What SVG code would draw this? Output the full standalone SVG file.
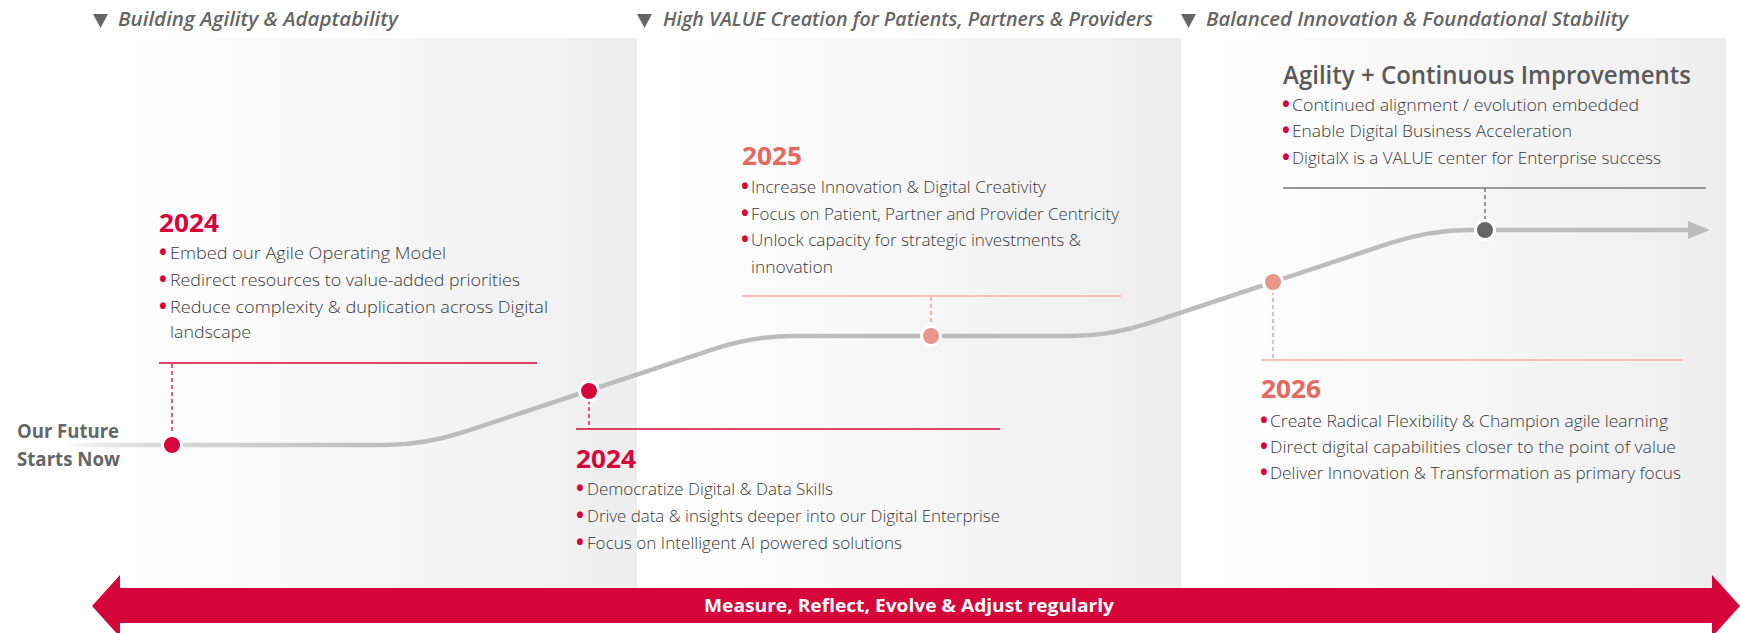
<svg xmlns="http://www.w3.org/2000/svg" width="1740" height="633" viewBox="0 0 1740 633">
<defs>
<linearGradient id="pg" x1="0" y1="0" x2="1" y2="0">
<stop offset="0" stop-color="#ffffff"/>
<stop offset="1" stop-color="#eeeeee"/>
</linearGradient>
<linearGradient id="lineg" gradientUnits="userSpaceOnUse" x1="60" y1="0" x2="1710" y2="0">
<stop offset="0" stop-color="#bdbdbd" stop-opacity="0"/>
<stop offset="0.07" stop-color="#d6d6d6"/>
<stop offset="0.2" stop-color="#bcbcbc"/>
<stop offset="1" stop-color="#bcbcbc"/>
</linearGradient>
</defs>
<style>
.hdr{font-family:"Open Sans","Liberation Sans",sans-serif;font-style:italic;font-weight:600;font-size:19.5px;fill:#666666}
.tri{fill:#666666}
.yr{font-family:"Open Sans","Liberation Sans",sans-serif;font-weight:700;font-size:25px}
.red{fill:#d6063a}
.sal{fill:#e5685f}
.bt{font-family:"Open Sans","Liberation Sans",sans-serif;font-weight:300;font-size:17px;fill:#3a3a3a}
.bul{font-family:"Open Sans","Liberation Sans",sans-serif;font-weight:700;font-size:21px;fill:#d6063a}
.ttl{font-family:"Open Sans","Liberation Sans",sans-serif;font-weight:600;font-size:25px;fill:#5a5a5a}
.start{font-family:"Open Sans","Liberation Sans",sans-serif;font-weight:700;font-size:19px;fill:#666666}
.arrtxt{font-family:"Open Sans","Liberation Sans",sans-serif;font-weight:700;font-size:17.5px;fill:#ffffff}
.dash{fill:none;stroke-width:1.3;stroke-dasharray:4 3}
.ul{stroke-width:1.5}
.dot{stroke:#ffffff;stroke-width:3}
</style>

<g id="panels">
<rect x="92" y="38" width="545" height="550" fill="url(#pg)"/>
<rect x="637" y="38" width="544" height="550" fill="url(#pg)"/>
<rect x="1181" y="38" width="545" height="550" fill="url(#pg)"/>
</g>

<g id="headers">
<g id="header-1">
<polygon class="tri" points="93,14 108,14 100.5,28"/>
<text class="hdr" x="118" y="26" textLength="280" lengthAdjust="spacingAndGlyphs">Building Agility &amp; Adaptability</text>
</g>
<g id="header-2">
<polygon class="tri" points="637,14 652,14 644.5,28"/>
<text class="hdr" x="663" y="26" textLength="490" lengthAdjust="spacingAndGlyphs">High VALUE Creation for Patients, Partners &amp; Providers</text>
</g>
<g id="header-3">
<polygon class="tri" points="1181,14 1196,14 1188.5,28"/>
<text class="hdr" x="1206" y="26" textLength="422" lengthAdjust="spacingAndGlyphs">Balanced Innovation &amp; Foundational Stability</text>
</g>
</g>

<g id="connectors">
<path d="M60 445 L385 445 Q425 445 465 431.7 L713 349.3 Q753 336 793 336 L1070 336 Q1110 336 1150 322.8 L1390 243.2 Q1430 230 1470 230 L1690 230" fill="none" stroke="url(#lineg)" stroke-width="4.5"/>
<polygon points="1688,221 1710,230 1688,239" fill="#bcbcbc"/>
<line class="dash" x1="172" y1="364" x2="172" y2="436" stroke="#d6063a"/>
<line class="dash" x1="589" y1="400" x2="589" y2="429" stroke="#d6063a"/>
<line class="dash" x1="931" y1="297" x2="931" y2="327" stroke="#e8968a"/>
<line class="dash" x1="1273" y1="291" x2="1273" y2="360" stroke="#e8968a"/>
<line class="dash" x1="1485" y1="188" x2="1485" y2="221" stroke="#666666"/>
</g>

<g id="node-start">
<text class="start" x="17" y="438" textLength="102" lengthAdjust="spacingAndGlyphs">Our Future</text>
<text class="start" x="17" y="466" textLength="103" lengthAdjust="spacingAndGlyphs">Starts Now</text>
</g>

<g id="node-2024-top">
<circle class="dot" cx="172" cy="445" r="9.5" fill="#d6063a"/>
<line class="ul" x1="159" y1="363" x2="537" y2="363" stroke="#d6063a"/>
<text class="yr red" x="159" y="232" textLength="60" lengthAdjust="spacingAndGlyphs">2024</text>
<text class="bul" x="159" y="260">•</text>
<text class="bt" x="170" y="259" textLength="276" lengthAdjust="spacingAndGlyphs">Embed our Agile Operating Model</text>
<text class="bul" x="159" y="287">•</text>
<text class="bt" x="170" y="286" textLength="350" lengthAdjust="spacingAndGlyphs">Redirect resources to value-added priorities</text>
<text class="bul" x="159" y="314">•</text>
<text class="bt" x="170" y="313" textLength="378" lengthAdjust="spacingAndGlyphs">Reduce complexity &amp; duplication across Digital</text>
<text class="bt" x="170" y="338" textLength="81" lengthAdjust="spacingAndGlyphs">landscape</text>
</g>

<g id="node-2024-bottom">
<circle class="dot" cx="589" cy="391" r="9.5" fill="#d6063a"/>
<line class="ul" x1="576" y1="429" x2="1000" y2="429" stroke="#d6063a"/>
<text class="yr red" x="576" y="468" textLength="60" lengthAdjust="spacingAndGlyphs">2024</text>
<text class="bul" x="576" y="496">•</text>
<text class="bt" x="587" y="495" textLength="246" lengthAdjust="spacingAndGlyphs">Democratize Digital &amp; Data Skills</text>
<text class="bul" x="576" y="523">•</text>
<text class="bt" x="587" y="522" textLength="413" lengthAdjust="spacingAndGlyphs">Drive data &amp; insights deeper into our Digital Enterprise</text>
<text class="bul" x="576" y="550">•</text>
<text class="bt" x="587" y="549" textLength="315" lengthAdjust="spacingAndGlyphs">Focus on Intelligent AI powered solutions</text>
</g>

<g id="node-2025">
<circle class="dot" cx="931" cy="336" r="9.5" fill="#e8968a"/>
<line class="ul" x1="742" y1="296" x2="1121" y2="296" stroke="#f2aca2"/>
<text class="yr sal" x="742" y="165" textLength="60" lengthAdjust="spacingAndGlyphs">2025</text>
<text class="bul" x="741" y="194">•</text>
<text class="bt" x="751" y="193" textLength="295" lengthAdjust="spacingAndGlyphs">Increase Innovation &amp; Digital Creativity</text>
<text class="bul" x="741" y="221">•</text>
<text class="bt" x="751" y="220" textLength="368" lengthAdjust="spacingAndGlyphs">Focus on Patient, Partner and Provider Centricity</text>
<text class="bul" x="741" y="247">•</text>
<text class="bt" x="751" y="246" textLength="330" lengthAdjust="spacingAndGlyphs">Unlock capacity for strategic investments &amp;</text>
<text class="bt" x="751" y="273" textLength="82" lengthAdjust="spacingAndGlyphs">innovation</text>
</g>

<g id="node-2026">
<circle class="dot" cx="1273" cy="282" r="9.5" fill="#e8968a"/>
<line class="ul" x1="1261" y1="360" x2="1683" y2="360" stroke="#f2aca2"/>
<text class="yr sal" x="1261" y="398" textLength="60" lengthAdjust="spacingAndGlyphs">2026</text>
<text class="bul" x="1260" y="428">•</text>
<text class="bt" x="1270" y="427" textLength="398" lengthAdjust="spacingAndGlyphs">Create Radical Flexibility &amp; Champion agile learning</text>
<text class="bul" x="1260" y="454">•</text>
<text class="bt" x="1270" y="453" textLength="406" lengthAdjust="spacingAndGlyphs">Direct digital capabilities closer to the point of value</text>
<text class="bul" x="1260" y="480">•</text>
<text class="bt" x="1270" y="479" textLength="411" lengthAdjust="spacingAndGlyphs">Deliver Innovation &amp; Transformation as primary focus</text>
</g>

<g id="node-agility">
<circle class="dot" cx="1485" cy="230" r="9.5" fill="#666666"/>
<line class="ul" x1="1283" y1="188" x2="1706" y2="188" stroke="#777777"/>
<text class="ttl" x="1283" y="84" textLength="408" lengthAdjust="spacingAndGlyphs">Agility + Continuous Improvements</text>
<text class="bul" x="1282" y="112">•</text>
<text class="bt" x="1292" y="111" textLength="347" lengthAdjust="spacingAndGlyphs">Continued alignment / evolution embedded</text>
<text class="bul" x="1282" y="138">•</text>
<text class="bt" x="1292" y="137" textLength="280" lengthAdjust="spacingAndGlyphs">Enable Digital Business Acceleration</text>
<text class="bul" x="1282" y="165">•</text>
<text class="bt" x="1292" y="164" textLength="369" lengthAdjust="spacingAndGlyphs">DigitalX is a VALUE center for Enterprise success</text>
</g>

<g id="node-measure">
<polygon points="92,606 120,575 120,588 1712,588 1712,575 1740,606 1712,637 1712,623 120,623 120,637" fill="#d6063a"/>
<text class="arrtxt" x="909" y="612" text-anchor="middle" textLength="410" lengthAdjust="spacingAndGlyphs">Measure, Reflect, Evolve &amp; Adjust regularly</text>
</g>
</svg>
